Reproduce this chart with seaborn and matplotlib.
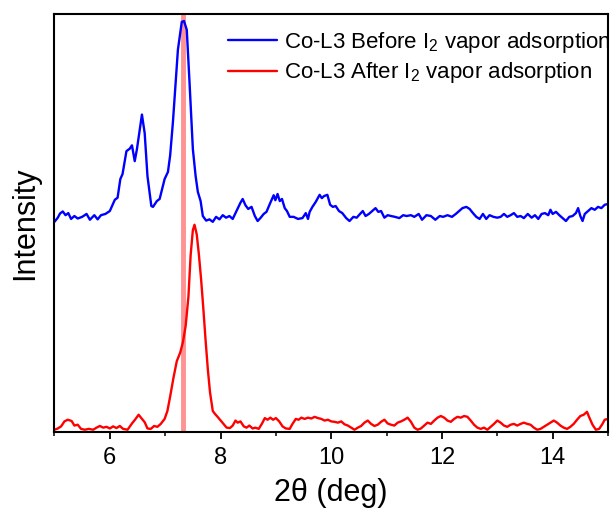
import seaborn as sns
import matplotlib.pyplot as plt
import pandas as pd
from matplotlib.ticker import MultipleLocator

# 2theta (deg) and intensity
before_x = [5.00, 5.06, 5.10, 5.15, 5.20, 5.25, 5.30, 5.36, 5.42, 5.50, 5.58, 5.64, 5.72, 5.78, 5.84, 5.92,
            6.00, 6.04, 6.09, 6.14, 6.19, 6.23, 6.30, 6.36, 6.40, 6.45, 6.49, 6.58, 6.63, 6.68, 6.75, 6.78,
            6.85, 6.90, 6.99, 7.05, 7.09, 7.14, 7.23, 7.30, 7.34, 7.39, 7.44, 7.50, 7.55, 7.59, 7.64, 7.68,
            7.74, 7.80, 7.86, 7.92, 7.98, 8.04, 8.10, 8.16, 8.22, 8.30, 8.36, 8.40, 8.45, 8.50, 8.56, 8.62,
            8.67, 8.72, 8.78, 8.83, 8.90, 8.96, 8.99, 9.03, 9.07, 9.11, 9.16, 9.20, 9.25, 9.32, 9.40, 9.48,
            9.54, 9.58, 9.61, 9.66, 9.72, 9.79, 9.83, 9.87, 9.93, 9.98, 10.03, 10.08, 10.14, 10.20, 10.27,
            10.33, 10.40, 10.46, 10.52, 10.57, 10.62, 10.68, 10.74, 10.80, 10.85, 10.90, 10.96, 11.02, 11.08,
            11.15, 11.23, 11.30, 11.36, 11.44, 11.50, 11.58, 11.64, 11.72, 11.80, 11.88, 11.96, 12.02, 12.10,
            12.18, 12.25, 12.31, 12.37, 12.44, 12.50, 12.56, 12.62, 12.68, 12.74, 12.80, 12.86, 12.93, 13.00,
            13.06, 13.12, 13.18, 13.24, 13.30, 13.36, 13.42, 13.48, 13.55, 13.62, 13.68, 13.74, 13.80, 13.86,
            13.92, 13.96, 14.00, 14.06, 14.12, 14.18, 14.24, 14.30, 14.36, 14.42, 14.46, 14.50, 14.54, 14.58,
            14.64, 14.70, 14.76, 14.82, 14.88, 14.94, 15.00]
before_y = [50.0, 51.0, 52.0, 52.5, 51.6, 52.1, 50.7, 51.4, 50.8, 51.2, 51.9, 50.5, 51.6, 50.6, 51.6, 51.9,
            52.6, 53.8, 55.3, 55.8, 60.3, 61.5, 67.0, 67.6, 68.4, 64.6, 67.5, 75.8, 71.3, 61.0, 53.8, 53.6,
            55.0, 55.5, 60.3, 62.0, 66.0, 74.0, 91.4, 98.1, 98.3, 96.2, 83.5, 67.5, 61.0, 57.2, 55.0, 51.4,
            50.3, 50.6, 50.0, 51.2, 50.6, 51.6, 51.0, 51.4, 50.7, 52.9, 54.6, 55.5, 54.0, 53.1, 53.6, 51.4,
            50.2, 50.9, 51.9, 52.4, 54.6, 56.4, 55.2, 56.7, 55.0, 55.5, 53.3, 52.6, 51.2, 51.2, 50.7, 50.9,
            52.1, 50.7, 52.4, 53.6, 54.8, 56.5, 55.7, 56.2, 56.5, 54.1, 53.6, 53.8, 52.6, 52.1, 50.9,
            50.2, 51.2, 51.0, 51.9, 52.6, 51.4, 51.9, 52.6, 53.3, 52.4, 52.6, 51.0, 51.6, 51.4,
            51.2, 50.9, 51.6, 51.4, 51.6, 51.2, 51.9, 50.5, 51.6, 51.4, 50.5, 51.4, 51.2, 51.6,
            51.2, 51.9, 52.6, 53.3, 53.6, 53.1, 52.1, 51.2, 50.7, 51.9, 50.7, 51.6, 51.2, 51.0,
            51.2, 51.9, 51.2, 51.6, 52.1, 51.2, 51.4, 50.9, 51.9, 51.0, 51.6, 50.7, 51.9, 52.1,
            51.6, 52.9, 51.9, 52.4, 51.6, 50.9, 50.2, 51.2, 51.4, 52.1, 53.3, 51.4, 50.2, 51.9,
            52.6, 53.3, 52.9, 53.6, 53.3, 54.1, 54.3]

after_x = [5.00, 5.06, 5.12, 5.18, 5.24, 5.31, 5.36, 5.42, 5.48, 5.55, 5.62, 5.70, 5.76, 5.82, 5.88, 5.94,
           6.00, 6.06, 6.12, 6.18, 6.24, 6.32, 6.40, 6.46, 6.52, 6.58, 6.63, 6.68, 6.74, 6.80, 6.86, 6.92,
           6.99, 7.04, 7.09, 7.15, 7.21, 7.27, 7.32, 7.37, 7.42, 7.46, 7.50, 7.53, 7.57, 7.61, 7.65, 7.69,
           7.73, 7.77, 7.81, 7.86, 7.90, 7.94, 7.99, 8.05, 8.11, 8.17, 8.22, 8.27, 8.31, 8.36, 8.42, 8.47,
           8.52, 8.58, 8.63, 8.69, 8.75, 8.80, 8.85, 8.90, 8.95, 9.00, 9.06, 9.12, 9.18, 9.25, 9.30, 9.36,
           9.41, 9.46, 9.52, 9.58, 9.64, 9.70, 9.76, 9.82, 9.88, 9.94, 10.00, 10.06, 10.12, 10.18, 10.24,
           10.30, 10.36, 10.42, 10.48, 10.54, 10.60, 10.66, 10.72, 10.78, 10.84, 10.90, 10.96, 11.02, 11.08,
           11.14, 11.20, 11.26, 11.32, 11.38, 11.44, 11.50, 11.56, 11.62, 11.68, 11.74, 11.80, 11.86, 11.92,
           11.98, 12.04, 12.10, 12.16, 12.22, 12.28, 12.34, 12.40, 12.46, 12.52, 12.58, 12.64, 12.70, 12.76,
           12.82, 12.88, 12.94, 13.00, 13.06, 13.12, 13.18, 13.24, 13.30, 13.36, 13.42, 13.48, 13.54, 13.60,
           13.66, 13.72, 13.78, 13.84, 13.90, 13.96, 14.02, 14.08, 14.14, 14.20, 14.26, 14.32, 14.38, 14.44,
           14.50, 14.56, 14.62, 14.66, 14.72, 14.78, 14.84, 14.90, 14.94, 15.00]
after_y = [0.0, 0.3, 0.8, 2.0, 2.4, 2.1, 1.0, 1.2, 0.2, 0.0, 0.2, 0.0, 0.5, 0.9, 0.5, 0.7,
           0.3, 0.8, 0.4, 0.9, 0.2, 0.0, 1.5, 2.5, 3.6, 2.6, 1.8, 0.3, 0.2, 0.9, 0.7, 1.4,
           2.6, 4.5, 8.0, 12.5, 16.5, 18.5, 21.0, 25.0, 32.0, 42.0, 48.0, 49.3, 47.0, 42.0, 36.0, 29.0,
           21.5, 14.6, 9.0, 4.5, 3.8, 3.2, 2.4, 1.4, 0.5, 0.4, 1.0, 2.2, 1.7, 2.0, 0.8, 0.5,
           1.0, 0.3, 0.5, 0.2, 1.5, 2.8, 2.4, 2.9, 2.4, 2.8, 2.0, 0.8, 0.3, 0.2, 1.4, 2.6,
           2.4, 2.9, 2.6, 2.9, 2.7, 3.1, 2.8, 2.6, 2.2, 2.4, 2.0, 1.9, 1.7, 2.0, 1.3,
           1.0, 0.5, 0.0, 0.5, 0.9, 1.7, 2.2, 1.4, 0.9, 1.2, 1.9, 2.4, 1.5, 1.2,
           1.0, 1.7, 2.0, 2.4, 2.9, 1.9, 0.5, 0.0, 0.3, 1.0, 1.7, 1.4, 2.2, 2.9,
           3.3, 2.9, 2.2, 1.9, 2.6, 3.1, 2.9, 3.3, 3.1, 2.2, 1.2, 0.5, 0.2, 0.5,
           0.0, 0.7, 1.4, 2.2, 1.7, 1.0, 0.7, 1.2, 1.4, 1.0, 1.4, 1.7, 1.4, 1.2,
           0.5, 0.0, 0.2, 0.7, 1.2, 1.7, 2.2, 1.7, 1.0, 0.5, 0.2, 0.7, 1.4, 2.4,
           3.3, 3.6, 4.3, 3.0, 1.2, 0.0, 0.2, 1.4, 2.4, 2.6]

labels = ["Co-L3 Before I$_2$ vapor adsorption", "Co-L3 After I$_2$ vapor adsorption"]
marker_x = 7.32

df = pd.concat([
    pd.DataFrame({"2theta": before_x, "Intensity": before_y, "sample": labels[0]}),
    pd.DataFrame({"2theta": after_x, "Intensity": after_y, "sample": labels[1]}),
])

sns.set_style("white")
plt.rcParams['font.family'] = ['Liberation Sans', 'DejaVu Sans']
plt.rcParams['mathtext.fontset'] = 'custom'
plt.rcParams['mathtext.rm'] = 'Liberation Sans'
plt.rcParams['mathtext.it'] = 'Liberation Sans:italic'
plt.rcParams['text.color'] = 'black'
plt.rcParams['axes.labelcolor'] = 'black'
plt.rcParams['xtick.color'] = 'black'

fig = plt.figure(figsize=(6.12, 5.17), dpi=100)
ax = fig.add_axes([0.089, 0.164, 0.9045, 0.809])

ax.axvline(marker_x, color="#ff7f7f", lw=3.5, alpha=0.85, zorder=1)
sns.lineplot(data=df, x="2theta", y="Intensity", hue="sample", hue_order=labels,
             palette=["#0000ff", "#ff0000"], estimator=None, sort=False, lw=1.7, ax=ax, zorder=2)

ax.set_xlim(5, 15)
ax.set_ylim(-0.6, 100)
ax.set_yticks([])
ax.xaxis.set_major_locator(MultipleLocator(2))
ax.xaxis.set_minor_locator(MultipleLocator(1))
ax.tick_params(axis="x", which="major", direction="out", length=5, width=1.3,
               bottom=True, labelsize=17, pad=6, colors="black")
ax.tick_params(axis="x", which="minor", direction="out", length=3, width=1.1, bottom=True)
for s in ax.spines.values():
    s.set_color("black")
    s.set_linewidth(1.5)

ax.set_xlabel("2θ (deg)", fontsize=22, labelpad=6)
ax.set_ylabel("Intensity", fontsize=22, labelpad=10)

h, l = ax.get_legend_handles_labels()
leg = ax.legend(h, l, loc="upper left", bbox_to_anchor=(0.313, 0.962), frameon=False,
                fontsize=16, handlelength=2.2, handletextpad=0.35, labelspacing=0.25,
                borderpad=0, borderaxespad=0)
for t in leg.get_texts():
    t.set_clip_box(ax.bbox)
    t.set_clip_on(True)

plt.savefig("out.png", dpi=100)
